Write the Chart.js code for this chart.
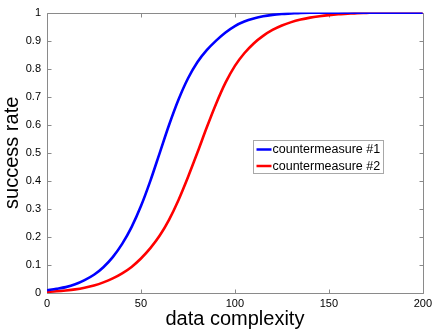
<!DOCTYPE html>
<html>
<head>
<meta charset="utf-8">
<script src="https://cdn.jsdelivr.net/npm/chart.js@4/dist/chart.umd.min.js"></script>
<style>
html,body{margin:0;padding:0;background:#fff;}
#wrap{width:436px;height:329px;position:relative;}
</style>
</head>
<body>
<div id="wrap"><canvas id="c"></canvas></div>
<script>
const complexity = [0,5,10,15,20,25,30,35,40,45,50,55,60,65,70,75,80,85,90,95,100,105,110,115,120,125,130,135,140,145,150,155,160,165,170,175,180,185,190,195,200];
const countermeasure1 = [0.010,0.015,0.021,0.031,0.046,0.065,0.092,0.128,0.175,0.235,0.31,0.40,0.50,0.60,0.69,0.765,0.823,0.866,0.900,0.929,0.952,0.968,0.979,0.987,0.992,0.995,0.997,0.999,1,1,1,1,1,1,1,1,1,1,1,1,1];
const countermeasure2 = [0.004,0.006,0.009,0.013,0.019,0.027,0.038,0.052,0.070,0.093,0.123,0.160,0.205,0.262,0.332,0.413,0.50,0.59,0.675,0.75,0.81,0.855,0.89,0.917,0.938,0.954,0.966,0.975,0.982,0.987,0.991,0.994,0.996,0.998,0.999,1,1,1,1,1,1];
const seriesNames = ['countermeasure #1','countermeasure #2'];
const seriesColors = ['#0000ff','#ff0000'];
const xTicks = [0,50,100,150,200];
const yTicks = [0,0.1,0.2,0.3,0.4,0.5,0.6,0.7,0.8,0.9,1];
const xTitle = 'data complexity';
const yTitle = 'success rate';

const FONT = '"Liberation Sans", Arial, sans-serif';
const AXIS_COLOR = '#8a8a8a';

const toPts = arr => complexity.map((x,i)=>({x:x,y:arr[i]}));

const boxPlugin = {
  id:'boxPlugin',
  beforeDatasetsDraw(chart){
    const {ctx, chartArea:a, scales:{x,y}} = chart;
    ctx.save();
    ctx.strokeStyle = AXIS_COLOR;
    ctx.lineWidth = 1;
    ctx.beginPath();
    const L=Math.round(a.left)+0.5, R=Math.round(a.right)+0.5, T=Math.round(a.top)+0.5, B=Math.round(a.bottom)+0.5;
    ctx.rect(L,T,R-L,B-T);
    const tl = 4;
    xTicks.forEach(v=>{
      const px = Math.round(x.getPixelForValue(v))+0.5;
      ctx.moveTo(px,B); ctx.lineTo(px,B-tl);
      ctx.moveTo(px,T); ctx.lineTo(px,T+tl);
    });
    yTicks.forEach(v=>{
      const py = Math.round(y.getPixelForValue(v))+0.5;
      ctx.moveTo(L,py); ctx.lineTo(L+tl,py);
      ctx.moveTo(R,py); ctx.lineTo(R-tl,py);
    });
    ctx.stroke();
    ctx.restore();
  },
  afterDraw(chart){
    const {ctx} = chart;
    const bx = 253.5, by = 140.5, bw = 130, bh = 33;
    ctx.save();
    ctx.fillStyle = '#fff';
    ctx.fillRect(bx,by,bw,bh);
    ctx.strokeStyle = '#a8a8a8';
    ctx.lineWidth = 1;
    ctx.strokeRect(bx,by,bw,bh);
    ctx.font = '12.5px ' + FONT;
    ctx.textBaseline = 'middle';
    ctx.fillStyle = '#000';
    chart.data.datasets.forEach((ds,i)=>{
      const cy = by + 9 + i*16.5;
      ctx.strokeStyle = ds.borderColor;
      ctx.lineWidth = 2.5;
      ctx.beginPath();
      ctx.moveTo(bx+3, cy); ctx.lineTo(bx+18, cy);
      ctx.stroke();
      ctx.fillText(ds.label, bx+19, cy+0.5);
    });
    ctx.restore();
  }
};

new Chart(document.getElementById('c'), {
  type:'line',
  data:{
    datasets:[
      {label:seriesNames[0], data:toPts(countermeasure1), borderColor:seriesColors[0], backgroundColor:seriesColors[0], borderWidth:2.6, pointRadius:0, cubicInterpolationMode:'monotone', fill:false},
      {label:seriesNames[1], data:toPts(countermeasure2), borderColor:seriesColors[1], backgroundColor:seriesColors[1], borderWidth:2.6, pointRadius:0, cubicInterpolationMode:'monotone', fill:false}
    ]
  },
  options:{
    responsive:true,
    maintainAspectRatio:false,
    animation:false,
    layout:{padding:{left:0,top:12,right:12,bottom:0}},
    plugins:{legend:{display:false}, tooltip:{enabled:false}},
    scales:{
      x:{
        type:'linear', min:0, max:200,
        afterBuildTicks: s => { s.ticks = xTicks.map(v=>({value:v})); },
        afterFit: s => { s.height = 36; },
        grid:{display:false, drawTicks:false},
        border:{display:false},
        ticks:{color:'#000', font:{family:FONT, size:11}, padding:4, maxRotation:0},
        title:{display:true, text:xTitle, color:'#000', font:{family:FONT, size:20, lineHeight:1}, padding:{top:0,bottom:0}}
      },
      y:{
        type:'linear', min:0, max:1,
        afterBuildTicks: s => { s.ticks = yTicks.map(v=>({value:v})); },
        afterFit: s => { s.width = 47; },
        grid:{display:false, drawTicks:false},
        border:{display:false},
        ticks:{color:'#000', font:{family:FONT, size:11}, padding:6, callback: v => String(+v.toFixed(1))},
        title:{display:true, text:yTitle, color:'#000', font:{family:FONT, size:20, lineHeight:1}, padding:{top:2,bottom:0}}
      }
    }
  },
  plugins:[boxPlugin]
});
</script>
</body>
</html>
